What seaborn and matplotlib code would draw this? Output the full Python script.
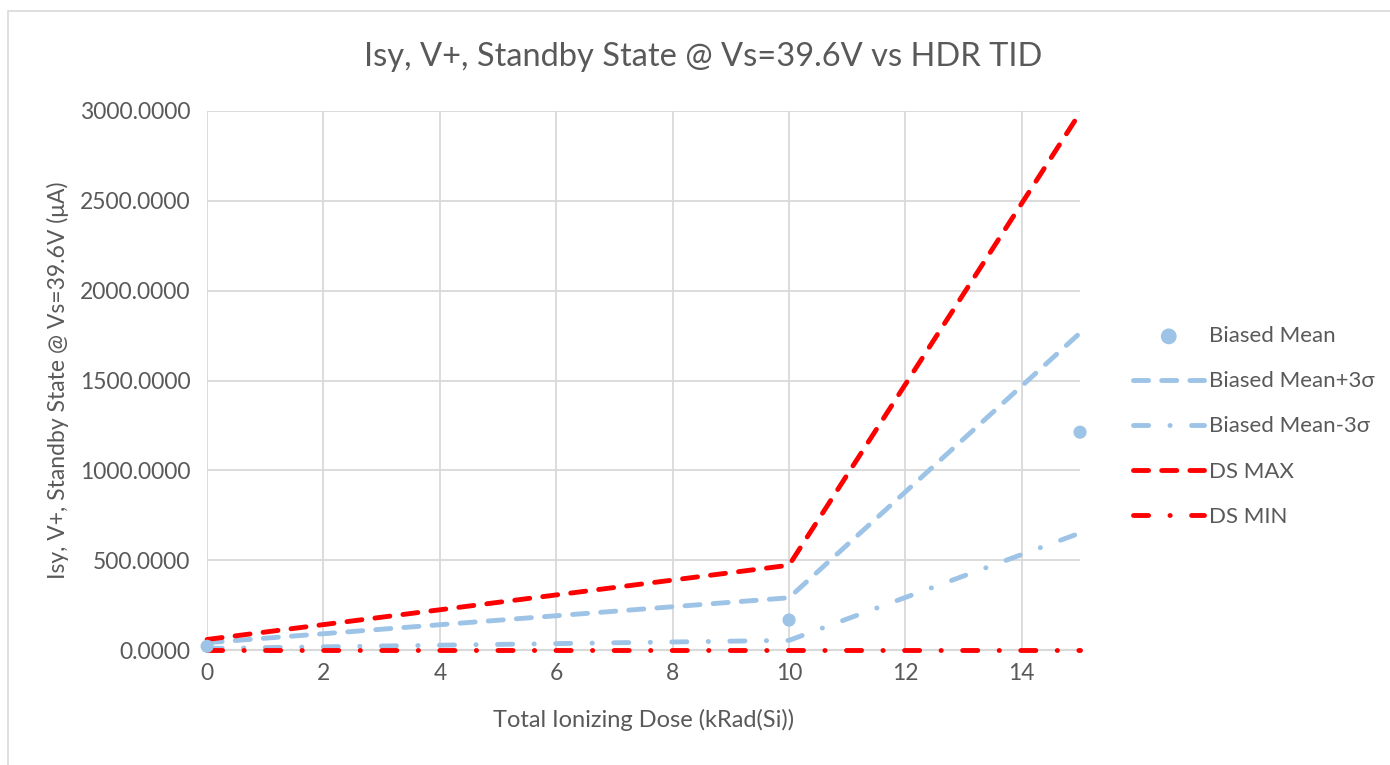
import matplotlib
matplotlib.use('Agg')
import matplotlib.pyplot as plt
import matplotlib.patches as patches
from matplotlib.ticker import FormatStrFormatter
import seaborn as sns
import pandas as pd

# Data
dose = [0, 10, 15]
biased_mean = [22, 168, 1213]
mean_plus_3s = [42, 292, 1765]
mean_minus_3s = [10, 55, 652]
ds_max = [60, 473, 2990]
ds_min = [0, 0, 0]

sns.set_theme(style='whitegrid')
plt.rcParams['font.family'] = ['Lato', 'DejaVu Sans']

text_col = '#595959'
grid_col = '#d9d9d9'
blue = '#9dc3e6'
red = '#ff0000'

df = pd.DataFrame({'dose': dose, 'mean': biased_mean, 'plus': mean_plus_3s,
                   'minus': mean_minus_3s, 'max': ds_max, 'min': ds_min})

fig = plt.figure(figsize=(13.9, 7.65), dpi=100)
ax = fig.add_axes([0.149, 0.150, 0.628, 0.705])

lw = 3.5
sns.scatterplot(data=df, x='dose', y='mean', ax=ax, color=blue, s=90,
                edgecolor='none', label='Biased Mean', zorder=5, clip_on=False)
sns.lineplot(data=df, x='dose', y='plus', ax=ax, color=blue, lw=lw,
             label='Biased Mean+3σ', zorder=4)
sns.lineplot(data=df, x='dose', y='minus', ax=ax, color=blue, lw=lw,
             label='Biased Mean-3σ', zorder=4)
sns.lineplot(data=df, x='dose', y='max', ax=ax, color=red, lw=lw,
             label='DS MAX', zorder=4)
sns.lineplot(data=df, x='dose', y='min', ax=ax, color=red, lw=lw,
             label='DS MIN', zorder=4)

dash = (3.1, 2.7)
dashdot = (3.1, 4.4, 0.05, 4.4)
for ln, pat in zip(ax.get_lines(), [dash, dashdot, dash, dashdot]):
    ln.set_dashes(pat)
    ln.set_dash_capstyle('round')
    ln.set_solid_capstyle('round')
    ln.set_clip_on(False)

ax.set_xlim(0, 15)
ax.set_ylim(0, 3000)
ax.set_xticks([0, 2, 4, 6, 8, 10, 12, 14])
ax.set_yticks(range(0, 3001, 500))
ax.yaxis.set_major_formatter(FormatStrFormatter('%.4f'))
ax.grid(True, color=grid_col, lw=1.3)
for side in ['left', 'right', 'top']:
    ax.spines[side].set_visible(False)
ax.spines['bottom'].set_color(grid_col)
ax.spines['bottom'].set_linewidth(1.5)
ax.tick_params(axis='both', colors=text_col, labelsize=16.5, length=0)
ax.tick_params(axis='y', pad=12)
ax.tick_params(axis='x', pad=9)

ax.set_xlabel('Total Ionizing Dose (kRad(Si))', fontsize=17, color=text_col, labelpad=18)
ax.set_ylabel('Isy, V+, Standby State @ Vs=39.6V (μA)', fontsize=16.5, color=text_col, labelpad=8)
fig.text(0.506, 0.926, 'Isy, V+, Standby State @ Vs=39.6V vs HDR TID',
         ha='center', va='center', fontsize=23.5, color=text_col)

leg = ax.legend(loc='center left', bbox_to_anchor=(1.038, 0.415), frameon=False,
                fontsize=16, labelcolor=text_col, handlelength=3.2,
                labelspacing=1.13, handletextpad=0.2, markerscale=1.2)

# light chart border like the original frame
fig.patches.append(patches.Rectangle((0.006, -0.05), 1.1, 1.0356, transform=fig.transFigure,
                                     fill=False, edgecolor=grid_col, lw=1.2))

fig.savefig('out.png', dpi=100)
